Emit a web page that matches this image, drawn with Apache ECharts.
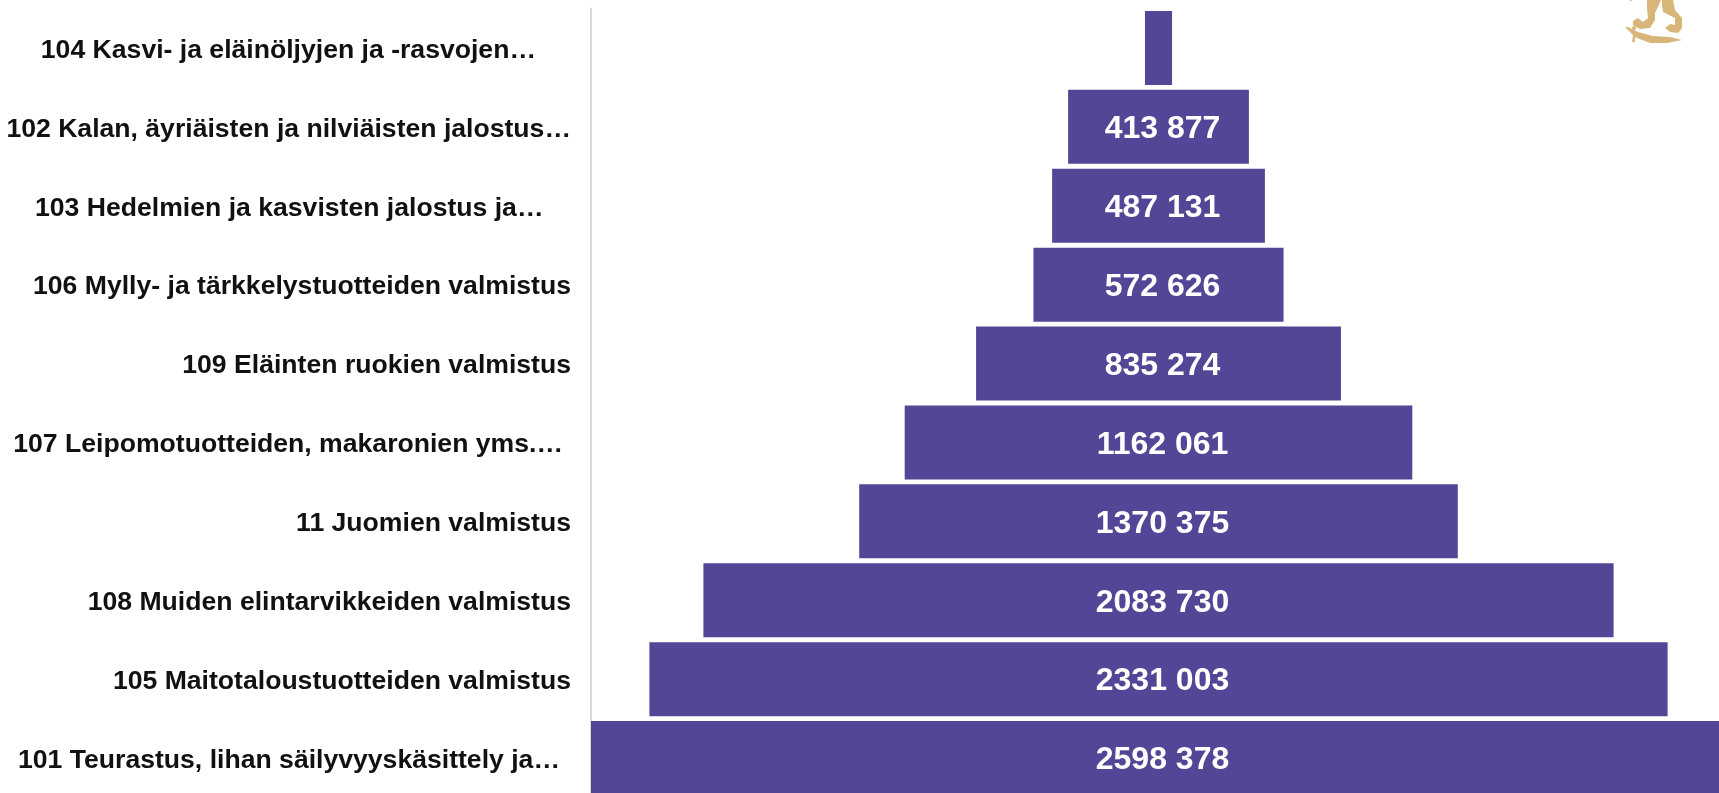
<!DOCTYPE html>
<html><head><meta charset="utf-8">
<style>html,body{margin:0;padding:0;background:#fff;overflow:hidden}#c{width:1719px;height:793px}</style>
<script src="https://cdn.jsdelivr.net/npm/echarts@6/dist/echarts.min.js"></script>
</head><body><div id="c"></div>
<script>
const categories = [
  "104 Kasvi- ja eläinöljyjen ja -rasvojen…",
  "102 Kalan, äyriäisten ja nilviäisten jalostus…",
  "103 Hedelmien ja kasvisten jalostus ja…",
  "106 Mylly- ja tärkkelystuotteiden valmistus",
  "109 Eläinten ruokien valmistus",
  "107 Leipomotuotteiden, makaronien yms.…",
  "11 Juomien valmistus",
  "108 Muiden elintarvikkeiden valmistus",
  "105 Maitotaloustuotteiden valmistus",
  "101 Teurastus, lihan säilyvyyskäsittely ja…"
];
const values = [62000, 413877, 487131, 572626, 835274, 1162061, 1370375, 2083730, 2331003, 2598378];
const hiddenLabels = [62000];
const spacer = values.map(v => (Math.max(...values) - v) / 2);
const fmt = v => { const s = String(v); return s.slice(0, -3) + " " + s.slice(-3); };

const gold = '#d8b579';
const labelFont = {color:'#111',fontFamily:'"Liberation Sans",Arial,sans-serif',fontWeight:'bold',fontSize:26.6};
const rightPad = {0:35, 2:27.5, 5:8, 9:11};
const rich = {};
categories.forEach((c,i) => { rich['p'+i] = {...labelFont, padding:[5, rightPad[i] || 0, 0, 0]}; });
const chart = echarts.init(document.getElementById('c'), null, {renderer:'canvas'});
chart.setOption({
  animation:false,
  backgroundColor:'#fff',
  grid:{left:591,top:8.5,width:1135,height:789,containLabel:false,outerBoundsMode:'none'},
  xAxis:{type:'value',min:0,max:Math.max(...values),show:false},
  yAxis:{type:'category',inverse:true,data:categories,
    axisTick:{show:false},
    axisLine:{show:true,lineStyle:{color:'#d9d9d9',width:2}},
    axisLabel:{...labelFont,margin:20,interval:0,rich,
      formatter:(v,i)=>`{p${i}|${v}}`}
  },
  series:[
    {type:'bar',stack:'f',data:spacer,silent:true,itemStyle:{color:'transparent'},barCategoryGap:'6.2%'},
    {type:'bar',stack:'f',data:values,itemStyle:{color:'#554596'},barCategoryGap:'6.2%',
      label:{show:true,position:'inside',offset:[4,2.5],color:'#fff',fontFamily:'"Liberation Sans",Arial,sans-serif',fontWeight:'bold',fontSize:32,
        formatter:p=>hiddenLabels.includes(p.value)?'':fmt(p.value)}}
  ],
  graphic:[
    {type:'polygon',silent:true,shape:{points:[[1625,27],[1628,27],[1634,30],[1638,32],[1653,36],[1670,37],[1682,40],[1667,43],[1650,43],[1637,38],[1635,37],[1635,42],[1632,42],[1633,35],[1627,29]]},style:{fill:gold}},
    {type:'circle',silent:true,shape:{cx:1634,cy:28,r:2},style:{fill:gold}},
    {type:'polygon',silent:true,shape:{points:[[1647,0],[1661,0],[1658,7],[1655,13],[1655,20],[1650,28],[1640,29],[1633,25],[1633,21],[1638,18],[1643,22],[1648,18],[1647,8]]},style:{fill:gold}},
    {type:'polygon',silent:true,shape:{points:[[1662,0],[1673,0],[1675,10],[1682,18],[1682,28],[1678,33],[1670,32],[1665,28],[1670,24],[1675,25],[1675,18],[1663,12],[1662,5]]},style:{fill:gold}},
    {type:'polygon',silent:true,shape:{points:[[1630,0],[1632,0],[1631,2]]},style:{fill:gold}}
  ]
});
</script></body></html>
